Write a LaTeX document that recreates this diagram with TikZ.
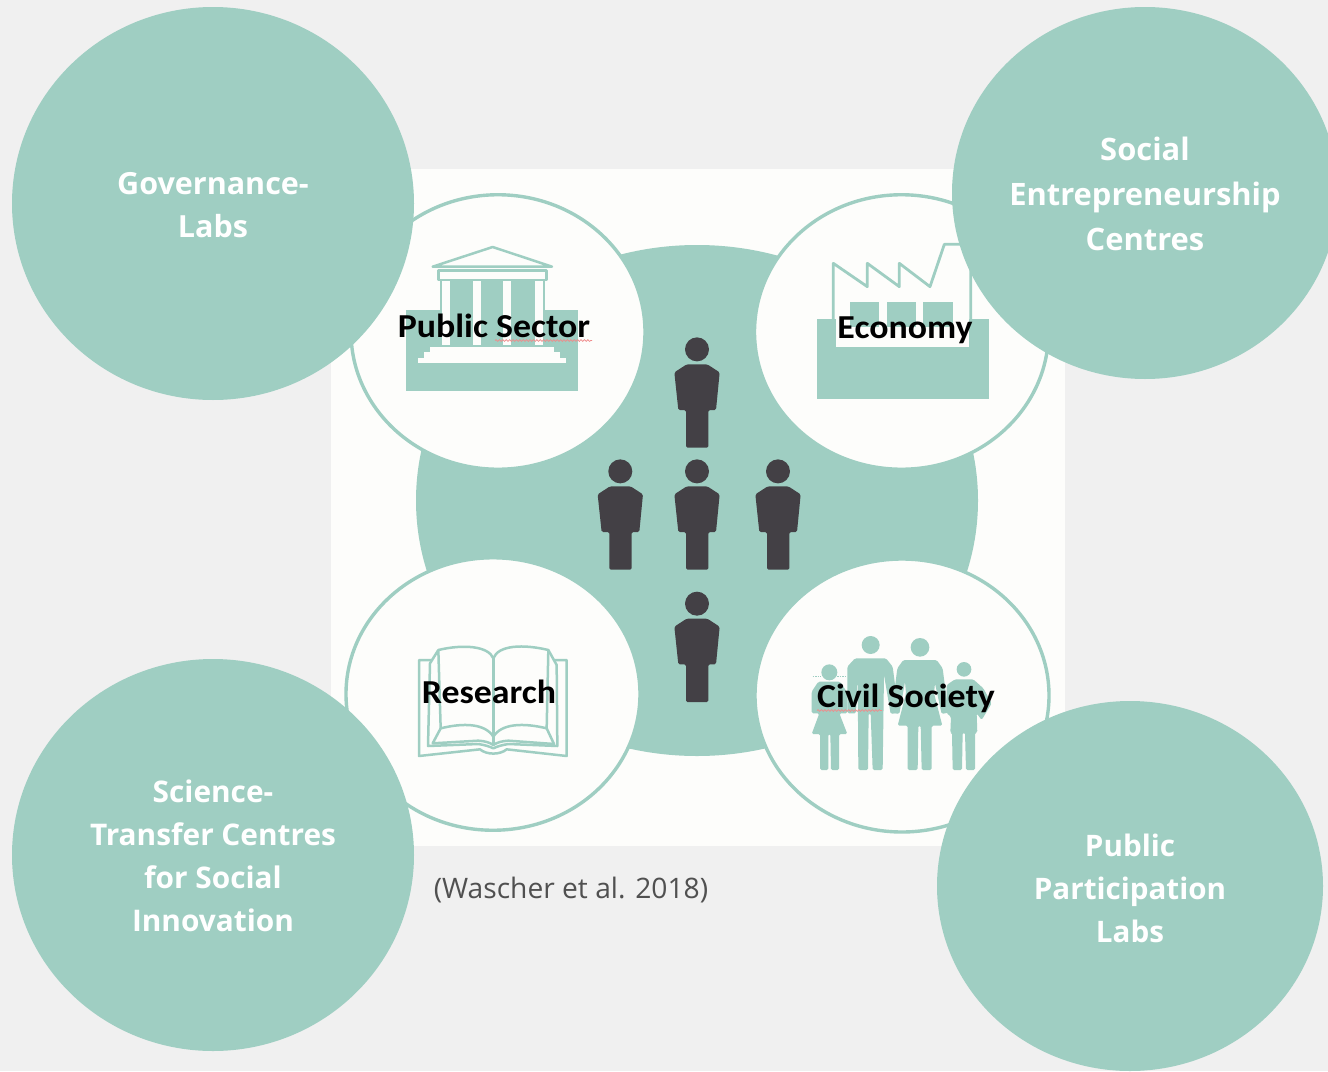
\documentclass[tikz,border=0pt]{standalone}
\usepackage{fontspec}
\setmainfont{Open Sans}
\newfontfamily\labelfont[FakeStretch=1.07]{Carlito}
\usetikzlibrary{shapes.geometric,decorations.pathmorphing}
\definecolor{pagebg}{HTML}{F0F0F0}
\definecolor{panelwhite}{HTML}{FDFDFB}
\definecolor{teal}{HTML}{9FCEC2}
\definecolor{figdark}{HTML}{434045}
\definecolor{citegray}{HTML}{505050}
\definecolor{squiggle}{HTML}{F08A8A}
\tikzset{
  bigcirc/.style={ellipse,fill=teal,inner sep=0pt},
  bigtext/.style={inner sep=0pt,align=center,text=white},
  sector/.style={ellipse,draw=teal,line width=3.4pt,fill=panelwhite,inner sep=0pt,minimum width=294pt,minimum height=274.5pt},
  sectorlabel/.style={inner sep=0pt,anchor=base,text=black,font=\labelfont\bfseries\fontsize{33.5}{36}\selectfont},
  icon/.style={draw=teal,line width=2.8pt,line join=round},
  iconthin/.style={draw=teal,line width=2.5pt,line join=round},
  personfill/.style={fill=figdark,draw=none},
  wave/.style={draw=squiggle,line width=0.7pt,decorate,decoration={snake,amplitude=0.9pt,segment length=3.4pt}},
  zoomed/.style={x=0.33333pt,y=-0.33333pt},
  personfig/.pic={
    \fill[personfill] (0,-295) circle[radius=36];
    \fill[personfill,rounded corners=1.5pt] (-68,-226)--(-31,-250)--(31,-250)--(68,-226)--(57,-113)--(34,-113)--(34,0)--(-33,0)--(-33,-113)--(-56,-113)--cycle;
  }
}
\begin{document}
\begin{tikzpicture}[x=1pt,y=-1pt]
\useasboundingbox (0,0) rectangle (1328,1071);
\fill[pagebg] (0,0) rectangle (1328,1071);
\fill[panelwhite] (331,169) rectangle (1065,846);
\node[ellipse,fill=teal,inner sep=0pt,minimum width=562pt,minimum height=511pt] (hub) at (697,500.5) {};
\node[sector] (secpublic) at (498,332) {};
\node[sector] (sececonomy) at (901.5,332) {};
\node[sector,minimum height=272.5pt] (secresearch) at (493,694) {};
\node[sector,minimum height=273pt] (seccivil) at (902,695.5) {};

% Public sector icon
\begin{scope}[shift={(350,190)},zoomed]
\fill[teal] (168,360) rectangle (683,602);
\fill[panelwhite] (262,268) rectangle (592,360);
\fill[teal] (270,270) rectangle (585,470);
\foreach \a/\b in {275/300,368/392,460/484,555/578}{\fill[panelwhite] (\a,272) rectangle (\b,465);}
\fill[panelwhite] (240,470) rectangle (612,487);
\fill[panelwhite] (222,487) rectangle (630,503);
\fill[panelwhite] (205,503) rectangle (647,520);
\draw[iconthin] (266,241) rectangle (590,270);
\draw[iconthin] (248,230) -- (428,171) -- (606,230) -- cycle;
\end{scope}

% Economy icon
\begin{scope}[shift={(760,190)},zoomed]
\fill[teal] (172,388) rectangle (686,628);
\fill[panelwhite] (228,388) rectangle (628,472);
\fill[teal] (270,335) rectangle (358,410);
\fill[teal] (380,335) rectangle (468,410);
\fill[teal] (490,335) rectangle (580,410);
\draw[icon] (220,390) -- (220,220) -- (322,290) -- (322,220) -- (418,290) -- (418,220) -- (510,290) -- (553,163) -- (632,163) -- (632,390);
\end{scope}

% Book icon
\begin{scope}[shift={(350,560)},zoomed]
\draw[iconthin] (245,300) -- (207,300) -- (207,588) -- (390,568) .. controls (410,585) and (450,585) .. (470,568) -- (650,588) -- (650,300) -- (612,300);
\draw[iconthin] (430,295) .. controls (415,258) and (340,252) .. (265,270) -- (272,505) .. controls (340,488) and (405,490) .. (430,530);
\draw[iconthin] (430,295) .. controls (445,255) and (520,252) .. (595,270) -- (590,505) .. controls (520,488) and (455,490) .. (430,530);
\draw[iconthin] (430,295) -- (430,555);
\draw[iconthin] (272,505) -- (248,550) -- (385,542) .. controls (405,543) and (420,548) .. (430,555) .. controls (440,548) and (455,543) .. (475,542) -- (612,552) -- (590,505);
\draw[iconthin] (265,270) -- (240,310) -- (234,558) -- (385,552) .. controls (405,555) and (420,560) .. (430,565) .. controls (440,560) and (455,555) .. (475,552) -- (622,558) -- (620,315) -- (595,270);
\end{scope}

% Family icon
\begin{scope}[shift={(760,560)},zoomed]
\begin{scope}[rounded corners=1.5pt]
\fill[teal] (332,255) circle[radius=27];
\fill[teal] (262,320)--(285,295)--(378,295)--(398,320)--(416,458)--(392,462)--(372,345)--(368,630)--(338,630)--(332,460)--(326,460)--(324,630)--(295,630)--(293,345)--(288,460)--(262,460)--cycle;
\fill[teal] (480,262) circle[radius=28];
\fill[teal] (412,325)--(430,300)--(530,300)--(548,325)--(565,458)--(545,462)--(525,370)--(522,400)--(547,497)--(515,497)--(515,630)--(485,630)--(482,497)--(475,497)--(473,630)--(443,630)--(443,497)--(413,497)--(438,400)--(435,365)--(418,462)--(395,458)--cycle;
\fill[teal] (208,337) circle[radius=24];
\fill[teal] (155,395)--(175,365)--(240,365)--(260,395)--(262,460)--(238,460)--(262,522)--(237,522)--(237,630)--(213,630)--(211,522)--(205,522)--(205,630)--(180,630)--(180,522)--(155,522)--(178,460)--(155,460)--cycle;
\fill[teal] (612,328) circle[radius=22];
\fill[teal] (560,375)--(585,358)--(640,358)--(670,385)--(695,430)--(665,480)--(650,460)--(652,518)--(645,518)--(645,630)--(618,630)--(615,518)--(608,518)--(606,630)--(578,630)--(576,518)--(571,518)--(573,470)--(560,460)--cycle;
\end{scope}
\draw[teal,line width=1.5pt,densely dotted] (158,350) -- (184,350);
\draw[teal,line width=1.5pt,densely dotted] (232,350) -- (256,350);
\end{scope}

% Sector labels
\node[sectorlabel] (lblpublic) at (494,337.7) {Public Sector};
\node[sectorlabel] (lbleconomy) at (905,338.7) {Economy};
\node[sectorlabel] (lblresearch) at (489,703.7) {Research};
\node[sectorlabel] (lblcivil) at (906,707.7) {Civil Society};
\coordinate (waveAstart) at (495,340.5);
\coordinate (waveAend) at (592,340.5);
\coordinate (waveBstart) at (817,710.5);
\coordinate (waveBend) at (882,710.5);
\draw[wave] (waveAstart) -- (waveAend);
\draw[wave] (waveBstart) -- (waveBend);

% People
\begin{scope}[shift={(697,447.7)},zoomed]\pic {personfig};\end{scope}
\begin{scope}[shift={(620.3,569.7)},zoomed]\pic {personfig};\end{scope}
\begin{scope}[shift={(697,569.7)},zoomed]\pic {personfig};\end{scope}
\begin{scope}[shift={(778,569.7)},zoomed]\pic {personfig};\end{scope}
\begin{scope}[shift={(697,702)},zoomed]\pic {personfig};\end{scope}

% Outer circles
\node[bigcirc,minimum width=402pt,minimum height=393pt] (gov) at (213,203.5) {};
\node[bigcirc,minimum width=386pt,minimum height=372pt] (soc) at (1145,193) {};
\node[bigcirc,minimum width=402pt,minimum height=392pt] (sci) at (213,855) {};
\node[bigcirc,minimum width=386pt,minimum height=370pt] (pub) at (1130,886) {};
\node[bigtext,font=\bfseries\fontsize{30.5}{43}\selectfont] (govtext) at (213,205) {Governance-\\Labs};
\node[bigtext,font=\bfseries\fontsize{30.9}{45}\selectfont] (soctext) at (1145,194) {Social\\Entrepreneurship\\Centres};
\node[bigtext,font=\bfseries\fontsize{29.8}{43}\selectfont] (scitext) at (213,856) {Science-\\Transfer Centres\\for Social\\Innovation};
\node[bigtext,font=\bfseries\fontsize{29.6}{43}\selectfont] (pubtext) at (1130,888) {Public\\Participation\\Labs};
\node[inner sep=0pt,text=citegray,font=\fontsize{28.2}{32}\selectfont] (cite) at (571,890) {(Wascher et al. 2018)};
\end{tikzpicture}
\end{document}
